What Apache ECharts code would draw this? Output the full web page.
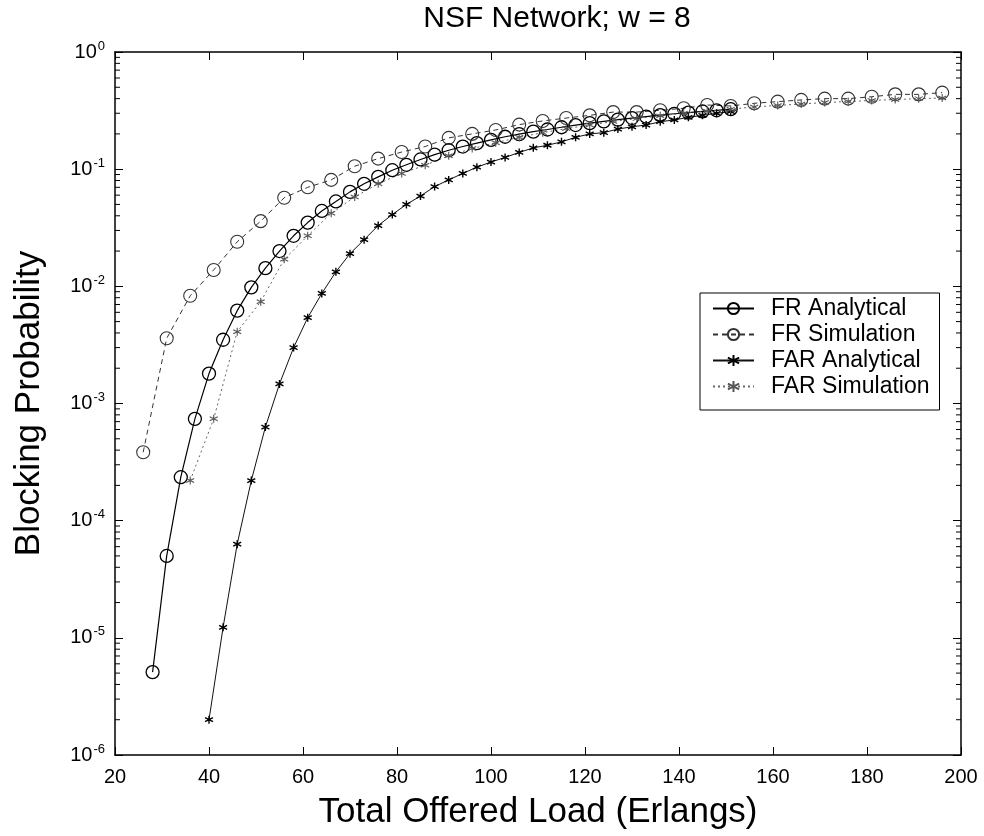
<!DOCTYPE html>
<html lang="en">
<head>
    <meta charset="UTF-8">
    <title>NSF Network; w = 8</title>
    <script src="https://cdn.jsdelivr.net/npm/echarts@6/dist/echarts.min.js"></script>
    <style>
        html, body { margin: 0; padding: 0; background: #fff; }
        .chart { width: 984px; height: 836px; }
    </style>
</head>
<body>
<div class="chart"></div>

<script>
    // 读图得到的数据
    let frAnaX = [28, 31, 34, 37, 40, 43, 46, 49, 52, 55, 58, 61, 64, 67, 70, 73, 76, 79, 82, 85, 88,
        91, 94, 97, 100, 103, 106, 109, 112, 115, 118, 121, 124, 127, 130, 133, 136, 139, 142, 145, 148, 151];
    let frAnaY = [5.1e-6, 5.0e-5, 2.35e-4, 7.4e-4, 1.8e-3, 3.5e-3, 6.2e-3, 9.8e-3, 1.43e-2, 2.0e-2, 2.7e-2,
        3.5e-2, 4.4e-2, 5.3e-2, 6.4e-2, 7.5e-2, 8.6e-2, 9.8e-2, 0.109, 0.121, 0.133, 0.145, 0.156, 0.167,
        0.178, 0.189, 0.199, 0.209, 0.218, 0.228, 0.238, 0.247, 0.256, 0.265, 0.273, 0.281, 0.289, 0.297,
        0.304, 0.311, 0.318, 0.325];

    let frSimX = [26, 31, 36, 41, 46, 51, 56, 61, 66, 71, 76, 81, 86, 91, 96, 101, 106, 111, 116, 121,
        126, 131, 136, 141, 146, 151, 156, 161, 166, 171, 176, 181, 186, 191, 196];
    let frSimY = [3.84e-4, 3.6e-3, 8.3e-3, 1.38e-2, 2.4e-2, 3.6e-2, 5.7e-2, 7.0e-2, 8.1e-2, 0.106, 0.123,
        0.140, 0.156, 0.185, 0.200, 0.216, 0.240, 0.258, 0.273, 0.288, 0.307, 0.307, 0.318, 0.331, 0.353,
        0.346, 0.365, 0.377, 0.390, 0.400, 0.400, 0.415, 0.435, 0.435, 0.450];

    let farAnaX = [40, 43, 46, 49, 52, 55, 58, 61, 64, 67, 70, 73, 76, 79, 82, 85, 88, 91, 94, 97, 100,
        103, 106, 109, 112, 115, 118, 121, 124, 127, 130, 133, 136, 139, 142, 145, 148, 151];
    let farAnaY = [2.0e-6, 1.23e-5, 6.3e-5, 2.2e-4, 6.3e-4, 1.47e-3, 3.0e-3, 5.4e-3, 8.7e-3, 1.33e-2,
        1.9e-2, 2.5e-2, 3.3e-2, 4.1e-2, 5.0e-2, 5.9e-2, 7.1e-2, 8.1e-2, 9.2e-2, 0.104, 0.115, 0.126, 0.139,
        0.152, 0.160, 0.171, 0.187, 0.200, 0.205, 0.220, 0.230, 0.238, 0.254, 0.263, 0.277, 0.288, 0.300, 0.310];

    let farSimX = [36, 41, 46, 51, 56, 61, 66, 71, 76, 81, 86, 91, 96, 101, 106, 111, 116, 121, 126, 131,
        136, 141, 146, 151, 156, 161, 166, 171, 176, 181, 186, 191, 196];
    let farSimY = [2.2e-4, 7.4e-4, 4.1e-3, 7.4e-3, 1.7e-2, 2.7e-2, 4.2e-2, 5.8e-2, 7.5e-2, 9.2e-2, 0.108,
        0.130, 0.150, 0.168, 0.187, 0.205, 0.222, 0.238, 0.255, 0.270, 0.285, 0.300, 0.312, 0.325, 0.340,
        0.350, 0.360, 0.370, 0.378, 0.386, 0.393, 0.400, 0.405];

    let xTicks = [20, 40, 60, 80, 100, 120, 140, 160, 180, 200];
    let yDecades = [-6, -5, -4, -3, -2, -1, 0];

    let font = 'Liberation Sans, Arial, sans-serif';
    let star = 'path://M5,0 L5,10 M0.7,2.5 L9.3,7.5 M0.7,7.5 L9.3,2.5';

    function zip(xs, ys) {
        return xs.map((x, i) => [x, ys[i]]);
    }

    let chart = echarts.init(document.querySelector('.chart'));

    let grid = { left: 115, right: 23, top: 52, bottom: 81 };

    let yLabel = {
        fontFamily: font,
        color: '#000',
        margin: 10,
        formatter: v => '{b|10}{s|' + Math.round(Math.log10(v)) + '}',
        rich: {
            b: { fontFamily: font, fontSize: 20, color: '#000' },
            s: { fontFamily: font, fontSize: 13, color: '#000', padding: [0, 0, 12, 1] }
        }
    };

    chart.setOption({
        backgroundColor: '#fff',
        animation: false,
        title: {
            text: 'NSF Network; w = 8',
            left: 552,
            top: -1,
            textAlign: 'center',
            textStyle: { fontFamily: font, fontSize: 30, fontWeight: 'normal', color: '#000' }
        },
        grid: Object.assign({ containLabel: false, outerBoundsMode: 'none' }, grid),
        legend: {
            orient: 'vertical',
            left: 700,
            top: 293,
            backgroundColor: '#fff',
            borderColor: '#000',
            borderWidth: 1,
            borderRadius: 0,
            padding: [4, 10, 12, 12],
            itemWidth: 41,
            itemHeight: 14,
            itemGap: 3,
            textStyle: { fontFamily: font, fontSize: 23, color: '#000', padding: [0, 0, 0, 12] },
            data: ['FR Analytical', 'FR Simulation', 'FAR Analytical', 'FAR Simulation']
        },
        xAxis: [
            {
                type: 'value',
                min: 20,
                max: 200,
                interval: 20,
                name: 'Total Offered Load (Erlangs)',
                nameLocation: 'middle',
                nameGap: 40,
                nameTextStyle: { fontFamily: font, fontSize: 35, color: '#000' },
                axisLine: { lineStyle: { color: '#000', width: 1.5 } },
                axisTick: { inside: true, length: 8, lineStyle: { color: '#000' } },
                axisLabel: { fontFamily: font, fontSize: 20, color: '#000', margin: 12 },
                splitLine: { show: false }
            },
            {
                type: 'value',
                position: 'top',
                min: 20,
                max: 200,
                interval: 20,
                axisLine: { lineStyle: { color: '#000', width: 1.5 } },
                axisTick: { inside: true, length: 8, lineStyle: { color: '#000' } },
                axisLabel: { show: false },
                splitLine: { show: false }
            }
        ],
        yAxis: [
            {
                type: 'log',
                logBase: 10,
                min: 1e-6,
                max: 1,
                name: 'Blocking Probability',
                nameLocation: 'middle',
                nameGap: 68,
                nameTextStyle: { fontFamily: font, fontSize: 35, color: '#000' },
                axisLine: { lineStyle: { color: '#000', width: 1.5 } },
                axisTick: { inside: true, length: 8, lineStyle: { color: '#000' } },
                axisLabel: yLabel,
                splitLine: { show: false }
            },
            {
                type: 'log',
                logBase: 10,
                min: 1e-6,
                max: 1,
                position: 'right',
                axisLine: { lineStyle: { color: '#000', width: 1.5 } },
                axisTick: { inside: true, length: 8, lineStyle: { color: '#000' } },
                axisLabel: { show: false },
                splitLine: { show: false }
            }
        ],
        series: [
            {
                name: 'FR Analytical',
                type: 'line',
                symbol: 'circle',
                symbolSize: 13,
                lineStyle: { color: '#000', width: 1.2, type: 'solid' },
                itemStyle: { color: 'rgba(255,255,255,0)', borderColor: '#000', borderWidth: 1.3 },
                data: zip(frAnaX, frAnaY)
            },
            {
                name: 'FR Simulation',
                type: 'line',
                symbol: 'circle',
                symbolSize: 13,
                lineStyle: { color: '#333', width: 1, type: [5, 4] },
                itemStyle: { color: 'rgba(255,255,255,0)', borderColor: '#333', borderWidth: 1.1 },
                data: zip(frSimX, frSimY)
            },
            {
                name: 'FAR Analytical',
                type: 'line',
                symbol: star,
                symbolSize: 8,
                lineStyle: { color: '#111', width: 1, type: 'solid' },
                itemStyle: { color: 'rgba(0,0,0,0)', borderColor: '#000', borderWidth: 1.4 },
                data: zip(farAnaX, farAnaY)
            },
            {
                name: 'FAR Simulation',
                type: 'line',
                symbol: star,
                symbolSize: 8,
                lineStyle: { color: '#666', width: 1, type: [2, 3] },
                itemStyle: { color: 'rgba(0,0,0,0)', borderColor: '#555', borderWidth: 1.1 },
                data: zip(farSimX, farSimY)
            }
        ]
    });

    // 对数轴的次刻度 2..9，用轴的换算画出来
    let minor = [];
    let xl = chart.convertToPixel({ xAxisIndex: 0 }, xTicks[0]);
    let xr = chart.convertToPixel({ xAxisIndex: 0 }, xTicks[xTicks.length - 1]);
    yDecades.slice(0, -1).forEach(d => {
        for (let k = 2; k <= 9; k++) {
            let y = chart.convertToPixel({ yAxisIndex: 0 }, k * Math.pow(10, d));
            minor.push({ type: 'line', shape: { x1: xl, y1: y, x2: xl + 5, y2: y }, style: { stroke: '#000', lineWidth: 1 } });
            minor.push({ type: 'line', shape: { x1: xr, y1: y, x2: xr - 5, y2: y }, style: { stroke: '#000', lineWidth: 1 } });
        }
    });
    chart.setOption({ graphic: minor });
</script>
</body>
</html>
